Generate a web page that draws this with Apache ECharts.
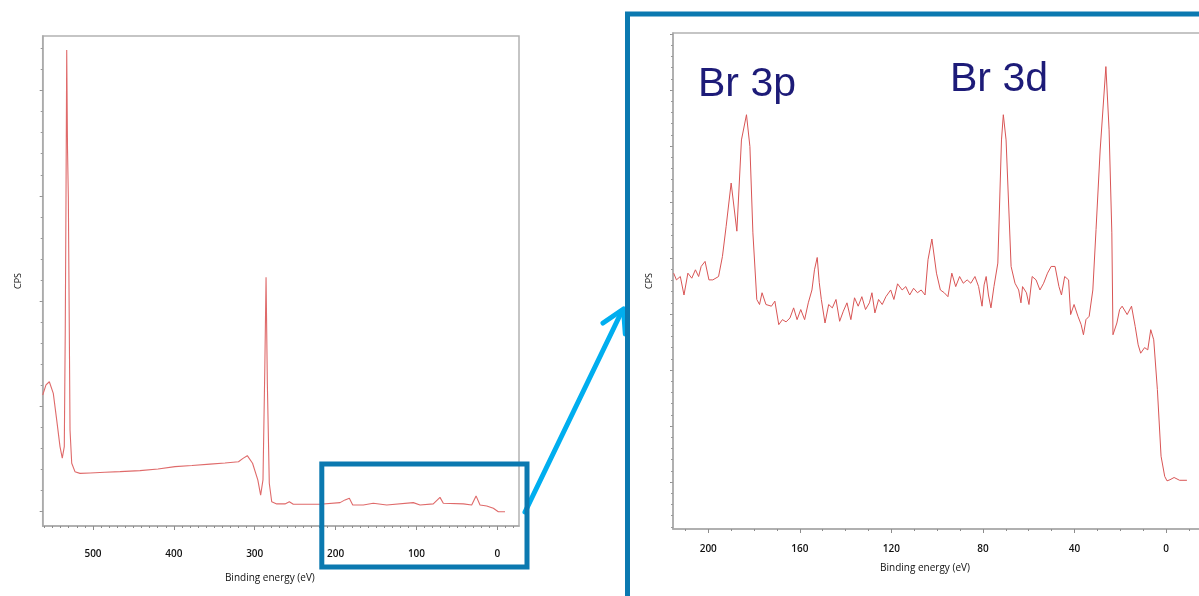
<!DOCTYPE html>
<html><head><meta charset="utf-8">
<script src="https://cdn.jsdelivr.net/npm/echarts@6/dist/echarts.min.js"></script>
<style>html,body{margin:0;padding:0;background:#fff}#c{width:1199px;height:596px}</style>
</head><body><div id="c"></div>
<script>
// ---- Survey spectrum (left panel) ----
const surveyBE = [562.2, 558.1, 554.0, 549.1, 544.9, 540.8, 538.0, 535.5, 534.3, 533.4, 532.5, 531.5, 530.5, 529.3, 528.4, 526.3, 522.3, 516.1, 503.6, 485.2, 466.6, 441.9, 419.6, 398.6, 377.6, 355.3, 336.8, 320.1, 314.5, 309.2, 302.7, 296.2, 292.7, 289.8, 287.5, 286.0, 284.4, 282.0, 279.0, 272.8, 262.6, 257.2, 252.3, 219.3, 194.5, 188.3, 183.0, 178.8, 165.7, 153.4, 136.8, 103.9, 95.6, 79.2, 70.9, 66.8, 42.0, 31.7, 26.3, 21.4, 13.1, 4.9, -1.2, -9.5];
const surveyCPS = [5.54, 6.02, 6.17, 5.62, 4.36, 3.09, 2.54, 3.09, 8.63, 14.8, 21.92, 17.2, 14.96, 8.63, 3.87, 2.30, 1.90, 1.82, 1.84, 1.87, 1.90, 1.95, 2.03, 2.14, 2.19, 2.26, 2.31, 2.37, 2.53, 2.66, 2.30, 1.51, 0.79, 1.51, 6.89, 11.13, 6.10, 1.35, 0.47, 0.37, 0.37, 0.47, 0.35, 0.35, 0.43, 0.56, 0.64, 0.32, 0.32, 0.40, 0.32, 0.43, 0.32, 0.37, 0.68, 0.40, 0.37, 0.32, 0.75, 0.32, 0.27, 0.16, 0.0, 0.0];

// ---- Detail spectrum (right panel, 215 .. -10 eV) ----
const detailBE = [215.1, 213.9, 212.2, 210.6, 208.9, 207.2, 205.6, 204.2, 203.1, 201.4, 199.7, 198.0, 195.5, 193.8, 192.2, 190.0, 187.5, 185.5, 183.3, 181.8, 180.5, 178.8, 177.6, 176.5, 174.8, 172.4, 170.9, 169.2, 167.6, 166.0, 164.3, 162.7, 161.2, 159.6, 157.9, 156.3, 154.7, 153.6, 152.4, 151.5, 150.6, 149.0, 147.4, 145.8, 144.2, 142.6, 141.0, 139.4, 137.7, 136.1, 134.5, 132.9, 131.3, 129.6, 128.5, 127.2, 125.6, 124.0, 122.4, 120.3, 118.9, 117.3, 115.3, 113.7, 112.0, 110.3, 108.6, 107.0, 105.3, 104.0, 102.3, 100.3, 98.6, 96.9, 95.3, 93.6, 91.9, 90.2, 88.6, 86.9, 85.3, 83.5, 81.9, 80.4, 79.5, 78.6, 77.6, 76.5, 75.2, 73.5, 71.9, 71.1, 69.9, 67.7, 66.0, 64.4, 63.4, 62.7, 61.0, 59.9, 58.5, 56.8, 55.1, 53.5, 51.8, 50.2, 48.5, 46.8, 45.7, 44.3, 42.6, 41.7, 40.2, 38.5, 37.1, 36.1, 35.0, 33.6, 32.0, 30.6, 28.8, 26.3, 24.9, 23.7, 23.2, 21.5, 20.3, 19.2, 17.0, 15.1, 13.5, 12.2, 11.1, 9.4, 8.0, 6.7, 5.4, 3.8, 2.2, 0.6, -0.4, -1.7, -3.5, -5.9, -9.1];
const detailCPS = [3.73, 3.61, 3.67, 3.34, 3.73, 3.64, 3.79, 3.67, 3.85, 3.94, 3.61, 3.61, 3.67, 4.03, 4.56, 5.34, 4.48, 6.11, 6.56, 5.99, 4.45, 3.26, 3.17, 3.38, 3.17, 3.14, 3.23, 2.81, 2.90, 2.86, 2.93, 3.11, 2.90, 3.08, 2.90, 3.20, 3.43, 3.79, 4.01, 3.56, 3.26, 2.84, 3.17, 3.11, 3.26, 2.87, 3.05, 3.20, 2.90, 3.29, 3.14, 3.31, 3.08, 3.20, 3.38, 3.02, 3.26, 3.17, 3.31, 3.43, 3.26, 3.54, 3.43, 3.49, 3.34, 3.46, 3.38, 3.43, 3.34, 3.97, 4.34, 3.73, 3.43, 3.38, 3.31, 3.73, 3.49, 3.67, 3.55, 3.61, 3.55, 3.67, 3.49, 3.14, 3.52, 3.67, 3.34, 3.11, 3.49, 3.91, 6.11, 6.56, 6.11, 3.85, 3.55, 3.43, 3.20, 3.49, 3.38, 3.17, 3.67, 3.61, 3.43, 3.55, 3.73, 3.85, 3.85, 3.49, 3.34, 3.67, 3.61, 2.99, 3.17, 2.96, 2.81, 2.63, 2.90, 2.96, 3.43, 4.51, 5.93, 7.42, 6.29, 4.45, 2.63, 2.84, 3.08, 3.14, 2.99, 3.14, 2.78, 2.45, 2.30, 2.40, 2.36, 2.72, 2.54, 1.65, 0.46, 0.10, 0.02, 0.04, 0.08, 0.03, 0.03];

// ---- Ticks ----
const surveyMajorX = [0, 100, 200, 300, 400, 500];
const surveyMinorX = [-20, -10, 0, 10, 20, 30, 40, 50, 60, 70, 80, 90, 100, 110, 120, 130, 140, 150, 160, 170, 180, 190, 200, 210, 220, 230, 240, 250, 260, 270, 280, 290, 300, 310, 320, 330, 340, 350, 360, 370, 380, 390, 400, 410, 420, 430, 440, 450, 460, 470, 480, 490, 500, 510, 520, 530, 540, 550, 560];
const surveyMajorY = [0, 5, 10, 15, 20];
const surveyMinorY = [0, 1, 2, 3, 4, 5, 6, 7, 8, 9, 10, 11, 12, 13, 14, 15, 16, 17, 18, 19, 20, 21, 22];
const detailMajorX = [0, 40, 80, 120, 160, 200];
const detailMinorX = [-10, 0, 10, 20, 30, 40, 50, 60, 70, 80, 90, 100, 110, 120, 130, 140, 150, 160, 170, 180, 190, 200, 210];
const detailMajorY = [0, 1, 2, 3, 4, 5, 6, 7, 8];
const detailMinorY = [-0.8, -0.6, -0.4, -0.2, 0, 0.2, 0.4, 0.6, 0.8, 1, 1.2, 1.4, 1.6, 1.8, 2, 2.2, 2.4, 2.6, 2.8, 3, 3.2, 3.4, 3.6, 3.8, 4, 4.2, 4.4, 4.6, 4.8, 5, 5.2, 5.4, 5.6, 5.8, 6, 6.2, 6.4, 6.6, 6.8, 7, 7.2, 7.4, 7.6, 7.8, 8];

const xName = 'Binding energy (eV)';
const yName = 'CPS';
const peakLabels = ['Br 3p', 'Br 3d'];

const AXC = '#a9a9a9';
const TXT = '#111111';
const FONT = 'Open Sans';

function xPair(gi, min, max, major, minor, margin, gap, pad) {
  return [
    { type: 'value', gridIndex: gi, min: min, max: max, inverse: true, position: 'bottom',
      axisLine: { show: true, onZero: false, lineStyle: { color: AXC, width: 1.5 } },
      axisTick: { show: true, inside: false, length: 4, customValues: major, lineStyle: { color: '#8c8c8c', width: 1 } },
      axisLabel: { show: true, customValues: major, margin: margin, color: TXT, fontFamily: FONT, fontSize: 10, fontWeight: 600 },
      splitLine: { show: false },
      name: xName, nameLocation: 'middle', nameGap: gap,
      nameTextStyle: { color: TXT, fontFamily: FONT, fontSize: 10, padding: pad } },
    { type: 'value', gridIndex: gi, min: min, max: max, inverse: true, position: 'bottom',
      axisLine: { show: false, onZero: false },
      axisTick: { show: true, inside: false, length: 2, customValues: minor, lineStyle: { color: '#8c8c8c', width: 1 } },
      axisLabel: { show: false }, splitLine: { show: false } }
  ];
}
function yPair(gi, min, max, major, minor, gap) {
  return [
    { type: 'value', gridIndex: gi, min: min, max: max, position: 'left',
      axisLine: { show: true, onZero: false, lineStyle: { color: AXC, width: 1.5 } },
      axisTick: { show: true, inside: false, length: 3, customValues: major, lineStyle: { color: '#8c8c8c', width: 1 } },
      axisLabel: { show: false }, splitLine: { show: false },
      name: yName, nameLocation: 'middle', nameGap: gap, nameRotate: 90,
      nameTextStyle: { color: TXT, fontFamily: FONT, fontSize: 9 } },
    { type: 'value', gridIndex: gi, min: min, max: max, position: 'left',
      axisLine: { show: false, onZero: false },
      axisTick: { show: true, inside: false, length: 2, customValues: minor, lineStyle: { color: '#9a9a9a', width: 1 } },
      axisLabel: { show: false }, splitLine: { show: false } }
  ];
}

const surveyData = surveyBE.map((e, i) => [e, surveyCPS[i]]);
const detailData = detailBE.map((e, i) => [e, detailCPS[i]]);

const chart = echarts.init(document.getElementById('c'), null, { renderer: 'canvas', width: 1199, height: 596 });
chart.setOption({
  backgroundColor: '#ffffff',
  animation: false,
  grid: [
    { left: 42.7, top: 36, width: 476.3, height: 490, show: true, borderColor: '#b3b3b3', borderWidth: 1.5, containLabel: false, outerBoundsMode: 'none' },
    { left: 673, top: 33, width: 532, height: 496, show: true, borderColor: '#b3b3b3', borderWidth: 1.5, containLabel: false, outerBoundsMode: 'none' }
  ],
  xAxis: [].concat(
    xPair(0, -26.8, 562.2, surveyMajorX, surveyMinorX, 23, 47, [0, 22, 0, 0]),
    xPair(1, -17, 215.4, detailMajorX, detailMinorX, 15, 34, [0, 28, 0, 0])
  ),
  yAxis: [].concat(
    yPair(0, -0.68, 22.59, surveyMajorY, surveyMinorY, 20),
    yPair(1, -0.84, 8.02, detailMajorY, detailMinorY, 19)
  ),
  series: [
    { type: 'line', xAxisIndex: 0, yAxisIndex: 0, data: surveyData, showSymbol: false, symbol: 'none',
      lineStyle: { color: '#df6a6a', width: 1.1 }, silent: true },
    { type: 'line', xAxisIndex: 2, yAxisIndex: 2, data: detailData, showSymbol: false, symbol: 'none',
      lineStyle: { color: '#d95555', width: 1 }, silent: true }
  ],
  graphic: [
    { type: 'text', z: 120, style: { text: peakLabels[0], x: 698, y: 85, font: '41px "Liberation Sans", Arial, sans-serif', fill: '#1d1b78', align: 'left', verticalAlign: 'middle' } },
    { type: 'text', z: 120, style: { text: peakLabels[1], x: 950, y: 80, font: '41px "Liberation Sans", Arial, sans-serif', fill: '#1d1b78', align: 'left', verticalAlign: 'middle' } },
    { type: 'polyline', z: 110, shape: { points: [[525, 512], [622, 311]] }, style: { stroke: '#00aeef', lineWidth: 5, lineCap: 'round', fill: null } },
    { type: 'polyline', z: 110, shape: { points: [[603, 323], [623.5, 309], [625.3, 334]] }, style: { stroke: '#00aeef', lineWidth: 5, lineCap: 'round', lineJoin: 'round', fill: null } },
    { type: 'rect', z: 115, shape: { x: 321.8, y: 464, width: 205.2, height: 103 }, style: { fill: null, stroke: '#0b79b0', lineWidth: 5 } },
    { type: 'rect', z: 115, shape: { x: 627.5, y: 14, width: 700, height: 700 }, style: { fill: null, stroke: '#0b79b0', lineWidth: 5 } }
  ]
});
</script>
</body></html>
